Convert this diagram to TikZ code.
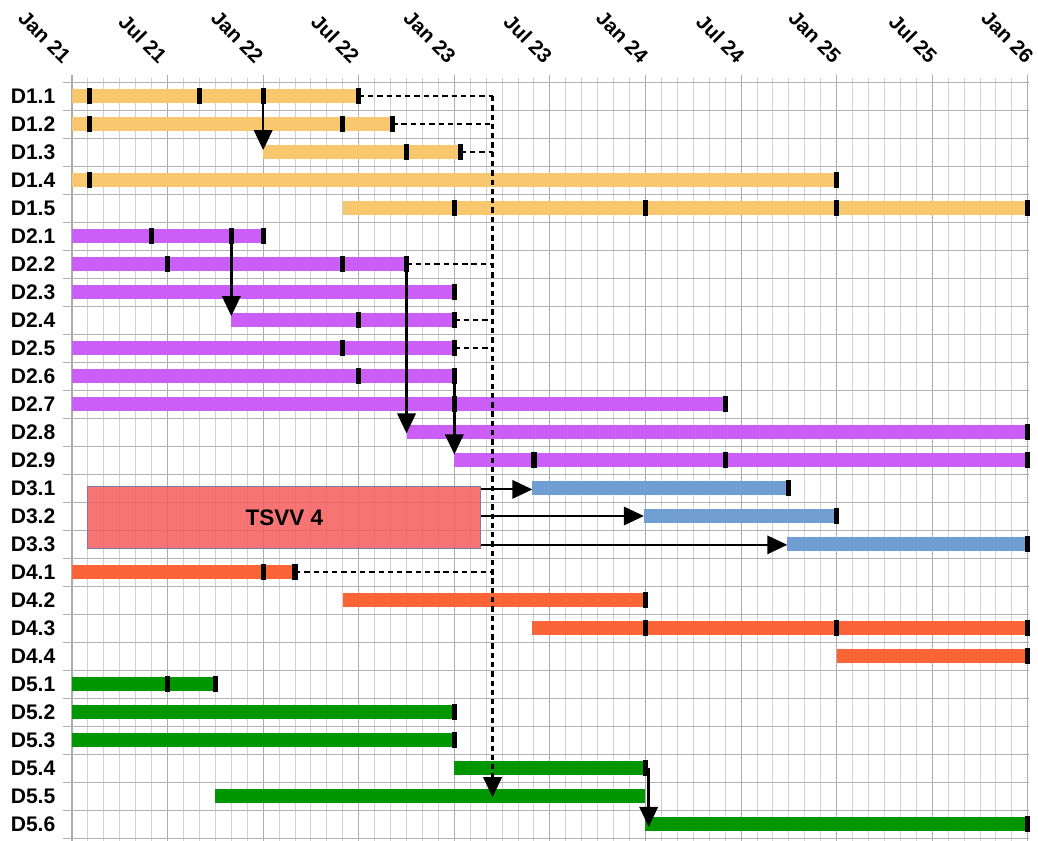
\documentclass[tikz,border=0pt]{standalone}
\usepackage{fontspec}
\setmainfont{Liberation Sans}
\usetikzlibrary{arrows.meta}

\definecolor{wpone}{RGB}{249,199,110}
\definecolor{wptwo}{RGB}{203,94,246}
\definecolor{wpthree}{RGB}{112,158,210}
\definecolor{wpfour}{RGB}{251,100,55}
\definecolor{wpfive}{RGB}{0,150,0}
\definecolor{tsvvfill}{RGB}{246,92,92}
\definecolor{tsvvdraw}{RGB}{120,120,170}
\definecolor{gridminor}{RGB}{208,208,208}
\definecolor{gridmajor}{RGB}{172,172,172}

\tikzset{
  rowlabel/.style={anchor=west, inner sep=0pt, font=\fontsize{15}{15}\selectfont\bfseries},
  datelabel/.style={anchor=east, rotate=-45, inner sep=0pt, font=\fontsize{14.5}{15}\selectfont\bfseries},
  tsvvbox/.style={draw=tsvvdraw, line width=0.6pt, fill=tsvvfill, fill opacity=0.85, text opacity=1,
    minimum width=9.825cm, minimum height=1.526cm, font=\fontsize{16}{16}\selectfont\bfseries},
  dep/.style={line width=1.8pt, -{Triangle[length=0.5cm,width=0.46cm]}},
  feed/.style={line width=1.5pt, -{Triangle[length=0.5cm,width=0.46cm]}},
  late/.style={line width=2pt, dash pattern=on 3.8pt off 2.8pt},
}

\begin{document}
\begin{tikzpicture}
        \useasboundingbox (0,0) rectangle (25.95,-21);
        \begin{scope}[shift={(1.8,-2.4)}, x=0.39825cm, y=-0.7cm]
        % Draw the grid
        \foreach \m in {0,...,60}
        \draw[gridminor, line width=0.7pt] (\m,-0.64) -- (\m,26.6);
        \foreach \m in {0,6,...,60}
        \draw[gridmajor, line width=0.8pt] (\m,-0.76) -- (\m,26.6);
        \foreach \r in {0,...,27}
        \draw[gridminor!85!black, line width=0.7pt] (-0.56,\r-0.5) -- (60.1,\r-0.5);
        % Draw the row labels
        \foreach \lab [count=\r from 0] in {D1.1,D1.2,D1.3,D1.4,D1.5,D2.1,D2.2,D2.3,D2.4,D2.5,D2.6,D2.7,D2.8,D2.9,D3.1,D3.2,D3.3,D4.1,D4.2,D4.3,D4.4,D5.1,D5.2,D5.3,D5.4,D5.5,D5.6}
        \node[rowlabel] (row\r) at (-3.86,\r) {\lab};
        % Draw the date labels
        \foreach \lab [count=\k from 0] in {Jan 21,Jul 21,Jan 22,Jul 22,Jan 23,Jul 23,Jan 24,Jul 24,Jan 25,Jul 25,Jan 26}
        \node[datelabel] (date\k) at ({6*\k-0.3+0.044*\k},-1.3) {\lab};
        % Draw the WP1 bars
        \foreach \r/\s/\e in {0/0/18, 1/0/20.1, 2/12/24.4, 3/0/48, 4/17/60}
        \fill[wpone] (\s,\r-0.26) rectangle (\e,\r+0.26);
        % Draw the WP2 bars
        \foreach \r/\s/\e in {5/0/12, 6/0/21, 7/0/24, 8/10/24, 9/0/24, 10/0/24, 11/0/41, 12/21/60, 13/24/60}
        \fill[wptwo] (\s,\r-0.26) rectangle (\e,\r+0.26);
        % Draw the WP3 bars
        \foreach \r/\s/\e in {14/28.9/45, 15/35.9/48, 16/44.9/60}
        \fill[wpthree] (\s,\r-0.26) rectangle (\e,\r+0.26);
        % Draw the WP4 bars
        \foreach \r/\s/\e in {17/0/14, 18/17/36, 19/28.9/60, 20/48/60}
        \fill[wpfour] (\s,\r-0.26) rectangle (\e,\r+0.26);
        % Draw the WP5 bars
        \foreach \r/\s/\e in {21/0/9, 22/0/24, 23/0/24, 24/24/36, 25/9/36, 26/36/60}
        \fill[wpfive] (\s,\r-0.26) rectangle (\e,\r+0.26);
        % Draw the TSVV 4 block
        \node[tsvvbox] (tsvv) at (13.33,15.05) {TSVV 4};
        % Draw the milestones
        \foreach \r/\m in {0/1.1, 0/8, 0/12, 0/18, 1/1.1, 1/17, 1/20.1, 2/21, 2/24.4, 3/1.1, 3/48,
          4/24, 4/36, 4/48, 4/60, 5/5, 5/10, 5/12, 6/6, 6/17, 6/21, 7/24, 8/18, 8/24, 9/17, 9/24,
          10/18, 10/24, 11/24, 11/41, 12/60, 13/29, 13/41, 13/60, 14/45, 15/48, 16/60,
          17/12, 17/14, 18/36, 19/36, 19/48, 19/60, 20/60, 21/6, 21/9, 22/24, 23/24, 24/36, 26/60}
        \fill[black] (\m-0.16,\r-0.27) rectangle (\m+0.16,\r+0.27);
        % Name the points the links use
        \coordinate (d11a) at (12,0);
        \coordinate (d13s) at (12,1.93);
        \coordinate (d21b) at (10,5);
        \coordinate (d24s) at (10,7.86);
        \coordinate (d22e) at (21,6);
        \coordinate (d28s) at (21,12.05);
        \coordinate (d26e) at (24,10);
        \coordinate (d29s) at (24,12.8);
        \coordinate (d31s) at (28.9,14.05);
        \coordinate (d32s) at (35.9,15);
        \coordinate (d33s) at (44.9,16.03);
        \coordinate (d54e) at (36.2,24);
        \coordinate (d56s) at (36.2,26.1);
        \coordinate (d11e) at (18,0);
        \coordinate (d12e) at (20.1,1);
        \coordinate (d13e) at (24.4,2);
        \coordinate (d22f) at (21,6);
        \coordinate (d24e) at (24,8);
        \coordinate (d25e) at (24,9);
        \coordinate (d41e) at (14,17);
        \coordinate (jtop) at (26.4,0);
        \coordinate (d55m) at (26.4,25.04);
        % Draw the links
        \draw[dep] (d11a) -- (d13s);
        \draw[dep] (d21b) -- (d24s);
        \draw[dep] (d22e) -- (d28s);
        \draw[dep] (d26e) -- (d29s);
        \draw[dep] (d54e) -- (d56s);
        \foreach \c in {d31s,d32s,d33s}
        \draw[feed] (tsvv.east |- \c) -- (\c);
        % Draw the late links
        \foreach \c in {d11e,d12e,d13e,d22f,d24e,d25e,d41e}
        \draw[late] (\c) -- (\c -| jtop);
        \draw[late, -{Triangle[length=0.5cm,width=0.46cm]}] (jtop) -- (d55m);
        \end{scope}
    \end{tikzpicture}
\end{document}
